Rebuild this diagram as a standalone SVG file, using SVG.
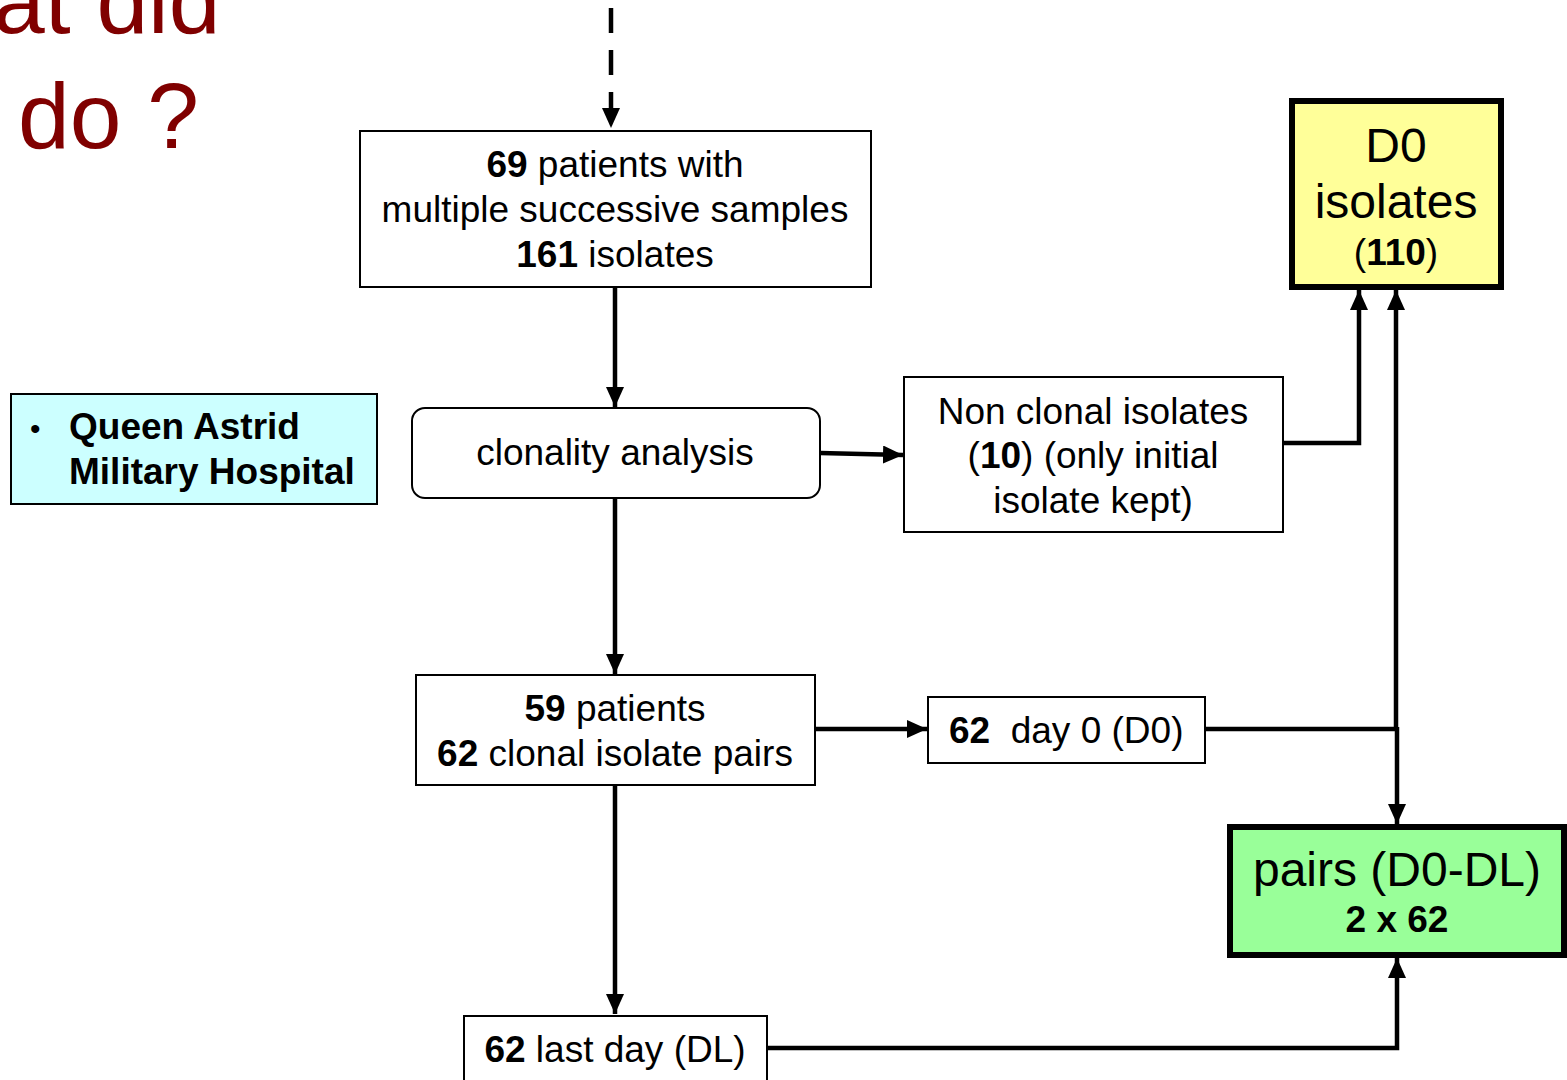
<svg xmlns="http://www.w3.org/2000/svg" width="1567" height="1080" viewBox="0 0 1567 1080">
<style>
text{font-family:"Liberation Sans",Arial,sans-serif;fill:#000}
.t{font-size:37px;text-anchor:middle}
.b{font-weight:bold}
.box{fill:#fff;stroke:#000;stroke-width:2}
.thick{stroke:#000;stroke-width:6}
.c{fill:none;stroke:#000;stroke-width:4.5}
.title{font-size:93px;fill:#800000}
</style>
<defs>
<marker id="ah" markerUnits="userSpaceOnUse" markerWidth="20" markerHeight="18" refX="20" refY="9" orient="auto">
<path d="M0,0 L20,9 L0,18 z" fill="#000"/>
</marker>
</defs>
<rect width="1567" height="1080" fill="#fff"/>
<g id="title">
<text class="title" x="-7" y="33">at did</text>
<text class="title" x="18" y="148">do ?</text>
</g>
<g id="connectors">
<path class="c" d="M611,8 V128" stroke-dasharray="25,17" stroke-width="6" marker-end="url(#ah)"/>
<path class="c" d="M615,287 V407" marker-end="url(#ah)"/>
<path class="c" d="M820,453 L903,455" marker-end="url(#ah)"/>
<path class="c" d="M1283,443 H1359 V290" marker-end="url(#ah)"/>
<path class="c" d="M615,498 V674" marker-end="url(#ah)"/>
<path class="c" d="M815,729 H927" marker-end="url(#ah)"/>
<path class="c" d="M1205,729 H1397"/>
<path class="c" d="M1396,731 V290" marker-end="url(#ah)"/>
<path class="c" d="M1397,727 V824" marker-end="url(#ah)"/>
<path class="c" d="M615,785 V1014" marker-end="url(#ah)"/>
<path class="c" d="M767,1048 H1397 V958" marker-end="url(#ah)"/>
</g>
<g id="n69">
<rect class="box" x="360" y="131" width="511" height="156"/>
<text class="t" x="615" y="177"><tspan class="b">69</tspan> patients with</text>
<text class="t" x="615" y="222">multiple successive samples</text>
<text class="t" x="615" y="267"><tspan class="b">161</tspan> isolates</text>
</g>
<g id="clonality">
<rect class="box" x="412" y="408" width="408" height="90" rx="13"/>
<text class="t" x="615" y="465">clonality analysis</text>
</g>
<g id="nonclonal">
<rect class="box" x="904" y="377" width="379" height="155"/>
<text class="t" x="1093" y="424">Non clonal isolates</text>
<text class="t" x="1093" y="468">(<tspan class="b">10</tspan>) (only initial</text>
<text class="t" x="1093" y="513">isolate kept)</text>
</g>
<g id="d0iso">
<rect x="1292" y="101" width="209" height="186" fill="#FFFF99" class="thick"/>
<text class="t" x="1396" y="162" style="font-size:48px">D0</text>
<text class="t" x="1396" y="218" style="font-size:48px">isolates</text>
<text class="t" x="1396" y="265">(<tspan class="b">110</tspan>)</text>
</g>
<g id="hospital">
<rect x="11" y="394" width="366" height="110" fill="#CCFFFF" stroke="#000" stroke-width="2"/>
<text x="30" y="439" style="font-size:30px">•</text>
<text class="b" x="69" y="439" style="font-size:37px">Queen Astrid</text>
<text class="b" x="69" y="484" style="font-size:37px">Military Hospital</text>
</g>
<g id="n59">
<rect class="box" x="416" y="675" width="399" height="110"/>
<text class="t" x="615" y="721"><tspan class="b">59</tspan> patients</text>
<text class="t" x="615" y="766"><tspan class="b">62</tspan> clonal isolate pairs</text>
</g>
<g id="day0">
<rect class="box" x="928" y="697" width="277" height="66"/>
<text x="949" y="743" style="font-size:37px;white-space:pre" xml:space="preserve"><tspan class="b">62</tspan>  day 0 (D0)</text>
</g>
<g id="pairs">
<rect x="1230" y="827" width="334" height="128" fill="#99FF99" class="thick"/>
<text class="t" x="1397" y="886" style="font-size:48px">pairs (D0-DL)</text>
<text class="t b" x="1397" y="932">2 x 62</text>
</g>
<g id="lastday">
<rect class="box" x="464" y="1016" width="303" height="72"/>
<text class="t" x="615" y="1062"><tspan class="b">62</tspan> last day (DL)</text>
</g>
</svg>
